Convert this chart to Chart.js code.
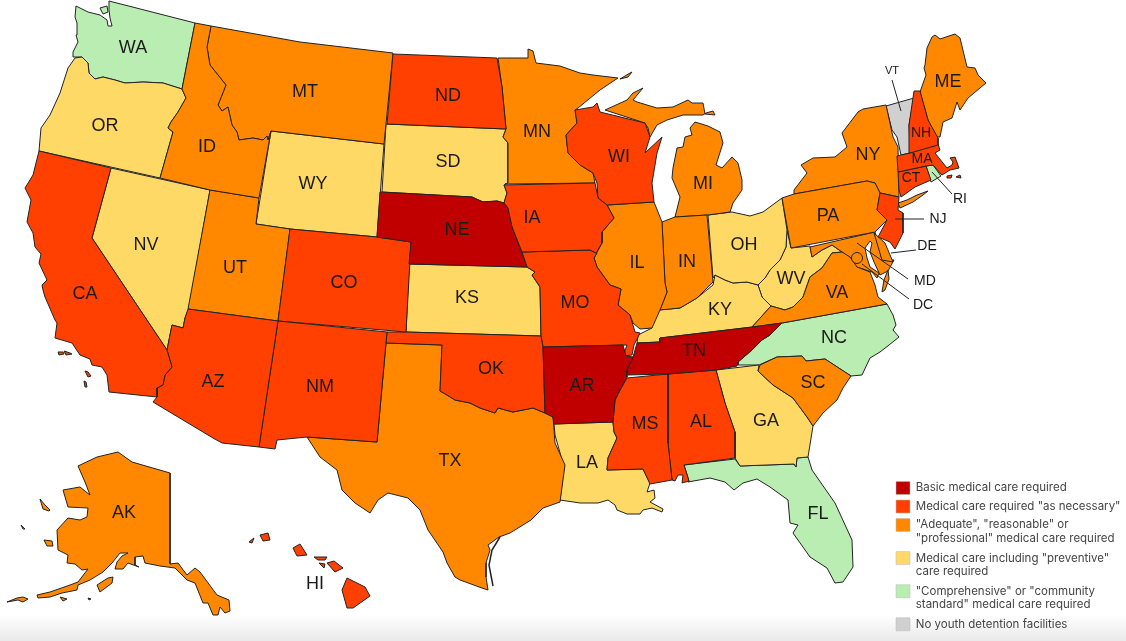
<!DOCTYPE html>
<html>
<head>
<meta charset="utf-8">
<title>Youth detention medical care standards</title>
<script src="https://cdn.jsdelivr.net/npm/chart.js@4"></script>
<style>
html, body { margin: 0; padding: 0; }
body { width: 1126px; height: 641px; overflow: hidden; background: linear-gradient(to bottom, #fff 0, #fff 615px, #e9e9e9 641px); }
canvas { display: block; }
</style>
</head>
<body>
<canvas id="myChart" width="1126" height="641"></canvas>
<script>
// state outlines, map units, x y x y ...  every state is a list of rings (islands too)
const WA = [[76,6, 88,12, 100,15, 107,20, 108,26, 112,26, 110,18, 109,10, 109,1, 195,23, 182,89, 163,83, 143,82, 125,83, 115,80, 103,77, 95,79, 89,73, 88,63, 82,57, 73,57, 73,52, 78,42, 76,35, 77,23, 75,17],
  [100,8, 107,6, 108,12, 103,14]];
const OR = [[75,58, 82,57, 88,63, 89,73, 95,79, 103,77, 115,80, 125,83, 143,82, 163,83, 182,89, 186,98, 178,112, 171,122, 168,128, 173,132, 160,178, 39,151, 41,128, 50,115, 60,93, 68,68]];
const CA = [[39,151, 111,168, 92,238, 167,350, 172,367, 165,375, 163,385, 157,388, 157,397, 109,392, 107,375, 102,367, 92,365, 90,359, 80,355, 72,343, 55,338, 57,323, 55,320, 45,297, 43,290, 42,285, 47,280, 39,263, 41,254, 35,247, 33,233, 27,222, 31,200, 25,188, 33,175],
  [58,352, 63,352, 64,354, 59,355], [64,351, 70,353, 72,354, 66,355], [85,371, 88,372, 91,376, 88,377], [84,381, 86,382, 87,387, 85,387]];
const NV = [[111,168, 210,190, 189,308, 185,318, 183,328, 172,325, 167,350, 92,238]];
const ID = [[195,23, 211,26, 207,47, 210,65, 218,75, 226,85, 218,105, 222,111, 228,107, 232,125, 237,132, 239,140, 253,138, 263,140, 267,136, 268,140, 271,131, 259,198, 210,190, 160,178, 173,132, 168,128, 171,122, 178,112, 186,98, 182,89]];
const MT = [[211,26, 300,42, 393,53, 384,144, 271,131, 268,140, 267,136, 263,140, 253,138, 239,140, 237,132, 232,125, 228,107, 222,111, 218,105, 226,85, 218,75, 210,65, 207,47]];
const WY = [[271,131, 384,144, 377,237, 290,229, 256,224]];
const UT = [[210,190, 259,198, 256,224, 290,229, 278,321, 188,309]];
const CO = [[290,229, 377,237, 411,242, 406,332, 278,321]];
const AZ = [[188,309, 278,321, 259,447, 222,443, 213,438, 153,402, 157,397, 157,388, 163,385, 165,375, 172,367, 167,350, 172,325, 183,328, 185,318]];
const NM = [[278,321, 387,332, 386,343, 377,442, 307,437, 277,440, 275,449, 259,447]];
const ND = [[393,54, 497,58, 502,87, 506,129, 387,124]];
const SD = [[386,124, 506,129, 503,137, 508,143, 508,183, 504,185, 507,193, 504,203, 497,201, 483,202, 472,197, 382,192]];
const NE = [[380,192, 472,197, 483,202, 497,201, 504,203, 508,208, 512,227, 518,243, 527,267, 409,264, 411,242, 377,237]];
const KS = [[409,264, 527,267, 535,272, 532,275, 540,287, 541,336, 406,332]];
const OK = [[387,332, 406,332, 541,336, 543,347, 545,413, 533,408, 513,412, 498,408, 495,413, 480,408, 470,403, 455,400, 447,395, 440,391, 442,345, 386,343]];
const TX = [[386,343, 442,345, 440,391, 447,395, 455,400, 470,403, 480,408, 495,413, 498,408, 513,412, 533,408, 545,413, 553,417, 555,443, 565,465, 560,502, 543,508, 531,520, 510,533, 499,537, 488,545, 490,550, 486,563, 486,577, 488,590, 482,588, 460,580, 455,577, 447,563, 443,552, 428,530, 420,510, 408,498, 388,493, 378,500, 370,513, 355,503, 342,490, 337,470, 320,457, 307,437, 377,442]];
const MN = [[498,58, 528,58, 528,49, 533,51, 536,63, 560,66, 580,73, 593,75, 618,78, 600,90, 578,108, 575,110, 577,123, 566,135, 568,153, 580,165, 593,173, 595,183, 505,184, 508,183, 508,143, 503,137, 506,129, 502,87],
  [620,79, 630,73, 632,72, 628,77]];
const IA = [[504,185, 595,183, 598,198, 607,205, 614,218, 602,232, 602,243, 596,253, 590,250, 522,252, 512,227, 507,207, 504,203, 507,193]];
const MO = [[522,252, 590,250, 597,253, 594,258, 597,267, 610,285, 621,289, 618,305, 630,315, 635,332, 640,333, 634,345, 632,355, 623,356, 627,345, 543,347, 541,336, 540,287, 532,275, 535,272, 527,267]];
const AR = [[543,347, 623,345, 626,356, 633,357, 627,370, 627,377, 620,390, 615,400, 613,422, 554,424, 553,417, 545,413]];
const LA = [[554,424, 613,422, 614,432, 617,438, 608,458, 607,470, 643,469, 650,483, 647,492, 654,490, 655,498, 650,502, 663,509, 662,512, 652,508, 643,510, 640,514, 627,514, 617,510, 615,505, 608,500, 598,503, 580,503, 560,500, 564,467, 555,435]];
const WI = [[575,110, 593,107, 597,103, 600,112, 645,123, 650,137, 645,153, 662,137, 657,153, 652,183, 654,202, 607,205, 598,198, 597,183, 593,173, 580,165, 568,153, 566,135, 577,123]];
const IL = [[607,205, 654,202, 662,222, 665,283, 667,292, 660,310, 652,328, 640,329, 633,323, 630,315, 618,305, 621,289, 610,285, 597,267, 594,258, 602,243, 602,232, 614,218]];
const IN = [[662,222, 675,217, 707,215, 713,282, 697,298, 680,308, 660,310, 667,292, 665,283]];
const MI = [[675,217, 708,215, 730,212, 733,203, 742,190, 742,180, 738,163, 732,157, 722,168, 716,165, 723,143, 720,132, 708,126, 695,122, 690,128, 692,135, 685,137, 683,147, 677,148, 673,168, 672,178, 680,197],
  [605,110, 627,100, 633,93, 643,88, 633,100, 637,102, 657,108, 673,107, 688,100, 692,103, 703,103, 705,114, 715,115, 713,111, 706,113, 703,115, 683,115, 667,120, 657,125, 650,137, 648,128, 645,123]];
const OH = [[708,215, 732,212, 750,216, 763,212, 782,198, 787,230, 786,247, 780,260, 770,270, 765,278, 758,285, 747,282, 733,283, 725,280, 715,275, 713,278]];
const KY = [[637,343, 638,335, 652,328, 650,323, 658,310, 680,308, 697,298, 713,285, 715,275, 725,280, 733,283, 747,282, 758,285, 762,297, 771,306, 752,327, 660,338, 660,342]];
const TN = [[628,375, 668,374, 716,370, 737,366, 738,362, 752,350, 762,340, 770,335, 782,323, 753,327, 660,338, 660,342, 637,343, 633,357, 627,370]];
const MS = [[627,378, 668,374, 668,443, 672,480, 650,484, 643,469, 607,470, 608,458, 617,438, 614,432, 613,422, 615,400, 620,390]];
const AL = [[668,374, 716,370, 725,403, 735,432, 735,458, 684,465, 689,481, 682,483, 683,475, 678,475, 675,481, 672,480, 668,443]];
const GA = [[716,370, 759,365, 758,371, 773,385, 793,398, 807,417, 813,426, 808,457, 797,458, 796,467, 794,464, 740,466, 735,458, 735,432, 725,403]];
const FL = [[684,465, 735,459, 740,466, 794,464, 796,467, 797,458, 808,457, 812,470, 835,503, 852,540, 853,567, 843,582, 835,583, 827,568, 810,557, 793,533, 798,525, 790,523, 788,500, 770,487, 757,479, 743,483, 734,490, 725,482, 710,478, 688,482, 689,481]];
const SC = [[758,371, 760,365, 777,357, 802,356, 806,361, 825,359, 851,376, 843,388, 837,400, 823,413, 813,426, 807,417, 793,398, 773,385]];
const NC = [[738,365, 759,365, 777,357, 802,356, 806,361, 825,359, 851,376, 862,375, 870,358, 880,352, 889,345, 899,337, 893,330, 896,325, 893,315, 887,304, 782,323, 770,335, 762,340, 752,350, 738,362]];
const VA = [[752,327, 771,306, 785,310, 793,307, 803,297, 810,277, 822,268, 832,253, 842,252, 850,257, 857,267, 870,272, 875,285, 878,297, 887,304, 782,323],
  [888,270, 884,280, 882,292, 885,290, 889,279]];
const WV = [[762,297, 758,285, 765,278, 770,270, 780,260, 786,247, 787,230, 791,248, 810,246, 812,257, 822,250, 832,245, 842,252, 832,253, 822,268, 810,277, 803,297, 793,307, 785,310, 771,306]];
const PA = [[794,194, 867,181, 875,183, 880,193, 877,210, 887,220, 875,232, 791,248, 782,198]];
const NY = [[794,190, 807,173, 801,165, 813,158, 835,157, 847,147, 842,133, 858,112, 863,109, 886,105, 893,137, 898,147, 899,197, 880,193, 875,183, 867,181, 794,194],
  [898,203, 907,200, 917,195, 928,191, 923,195, 913,202, 900,208]];
const NJ = [[880,193, 899,197, 898,210, 903,213, 903,233, 895,249, 890,242, 878,237, 887,220, 877,210]];
const DE = [[874,233, 885,243, 893,262, 882,260]];
const MD = [[810,247, 875,232, 882,260, 894,260, 888,271, 880,275, 874,262, 870,252, 872,243, 870,241, 865,248, 867,258, 870,267, 879,273, 877,278, 872,272, 860,268, 855,267, 850,258, 842,252, 832,245, 822,250, 812,257]];
const VT = [[886,106, 914,98, 909,125, 910,153, 901,155, 897,137, 892,130]];
const NH = [[914,91, 920,91, 928,120, 938,138, 938,145, 910,153, 909,125]];
const ME = [[920,92, 926,75, 924,68, 925,65, 927,48, 932,37, 935,35, 940,39, 955,34, 960,38, 967,67, 975,68, 978,75, 986,83, 980,88, 968,98, 960,110, 957,102, 952,118, 943,122, 940,137, 936,137, 928,120]];
const MA = [[897,156, 910,153, 938,144, 940,150, 935,153, 947,168, 952,165, 953,162, 950,158, 955,157, 959,168, 950,170, 942,175, 933,165, 926,166, 898,172],
  [947,176, 952,175, 951,178, 947,178], [956,177, 960,175, 961,178]];
const CT = [[898,172, 926,166, 931,180, 915,187, 901,197, 899,190]];
const RI = [[926,166, 933,165, 941,176, 931,182]];
const AK = [[78,466, 97,457, 118,452, 132,462, 170,473, 170,564, 178,563, 187,575, 195,568, 200,572, 217,595, 229,600, 230,611, 225,613, 220,607, 218,615, 213,615, 208,603, 203,603, 195,583, 187,580, 175,568, 160,566, 145,563, 143,556, 135,557, 135,565, 139,567, 128,563, 123,569, 115,569, 117,562, 122,556, 128,553, 120,553, 112,563, 107,568, 103,572, 90,580, 78,585, 77,590, 62,593, 50,597, 38,598, 37,595, 50,592, 70,585, 78,582, 88,569, 82,570, 75,564, 67,563, 68,555, 58,550, 57,530, 68,518, 80,520, 87,517, 88,508, 68,507, 63,490, 80,487, 90,495, 85,482],
  [40,499, 45,505, 50,510, 49,511, 43,509], [21,525, 25,529, 23,529], [44,540, 52,541, 53,546, 47,546], [97,585, 108,578, 113,577, 112,583, 100,592], [7,602, 17,598, 23,597, 28,599, 23,602, 18,600], [60,597, 67,599, 63,601], [88,598, 91,599, 89,600]];
const HI = [[260,535, 268,533, 270,540, 263,541], [249,542, 254,538, 252,543], [293,548, 300,544, 307,555, 297,556], [314,557, 327,557, 325,560, 318,560], [319,563, 325,564, 324,568], [327,563, 334,561, 343,568, 335,572], [347,578, 365,587, 370,596, 353,608, 347,608, 342,590]];

// care standard groups, same order as the legend
const basicCare = [NE, AR, TN];
const asNecessary = [CA, AZ, NM, CO, OK, ND, IA, MO, WI, MS, AL, NJ, NH, MA, CT, HI];
const adequate = [ID, MT, UT, TX, MN, IL, IN, MI, SC, VA, PA, NY, DE, MD, ME, AK];
const preventive = [OR, NV, WY, SD, KS, LA, OH, KY, GA, WV];
const comprehensive = [WA, NC, FL, RI];
const noFacilities = [VT];
const groups = [basicCare, asNecessary, adequate, preventive, comprehensive, noFacilities];
const groupColors = ['#c00000', '#ff4000', '#ff8800', '#ffd966', '#b9edb1', '#d0d0d0'];
const groupLabels = [
  'Basic medical care required',
  'Medical care required "as necessary"',
  ['"Adequate", "reasonable" or', '"professional" medical care required'],
  ['Medical care including "preventive"', 'care required'],
  ['"Comprehensive" or "community', 'standard" medical care required'],
  'No youth detention facilities'
];

// state codes and where they sit on the map
const bigCodes = ['WA','OR','CA','NV','ID','MT','WY','UT','AZ','CO','NM','ND','SD','NE','KS','OK','TX','MN','IA','MO','AR','LA','WI','IL','IN','MI','OH','KY','TN','MS','AL','GA','FL','SC','NC','VA','WV','PA','NY','ME','AK','HI'];
const bigX = [133,105,85,146,207,305,313,235,213,344,320,448,448,457,467,491,450,537,532,575,582,587,619,637,687,703,744,720,694,645,701,766,818,813,834,837,791,828,868,948,124,315];
const bigY = [48,126,294,245,147,92,184,268,382,283,387,96,162,230,298,369,461,132,218,303,386,463,157,263,262,184,245,310,351,424,422,421,514,383,338,293,279,216,155,82,513,584];
const smallCodes = ['NH','MA','CT','RI','NJ','DE','MD','DC'];
const smallX = [921,922,911,960,938,927,925,923];
const smallY = [133,159,178,199,219,246,281,305];
const vtCode = ['VT'], vtX = [892], vtY = [71];

// leader lines to the small states, and the DC dot
const leaderVT = [892,80, 901,111];
const leaderNJ = [895,219, 924,219];
const leaderDE = [891,253, 916,250];
const leaderRI = [932,172, 952,194];
const leaderMD = [857,243, 908,279];
const leaderDC = [862,264, 909,299];
const leaders = [leaderVT, leaderNJ, leaderDE, leaderRI, leaderMD, leaderDC];
const dcDot = [857,258];
const padreIsland = [500,537, 492,550, 489,565, 493,586];

function toPoints(flat, close) {
  var pts = [];
  for (var i = 0; i < flat.length; i += 2) pts.push({x: flat[i], y: flat[i + 1]});
  if (close) pts.push({x: flat[0], y: flat[1]});
  return pts;
}

var datasets = [];
leaders.forEach(function(l) {
  datasets.push({data: toPoints(l, false), showLine: true, fill: false, borderColor: '#222', borderWidth: 1, pointRadius: 0});
});
datasets.push({data: toPoints(dcDot, false), showLine: false, pointRadius: 5.5, pointBackgroundColor: '#ff8800', pointBorderColor: '#222', pointBorderWidth: 1});
datasets.push({data: toPoints(padreIsland, false), showLine: true, fill: false, borderColor: '#222', borderWidth: 1.5, pointRadius: 0});
groups.forEach(function(states, g) {
  states.forEach(function(rings) {
    rings.forEach(function(ring) {
      datasets.push({
        data: toPoints(ring, true),
        showLine: true,
        fill: 'shape',
        backgroundColor: groupColors[g],
        borderColor: '#222',
        borderWidth: 1,
        borderJoinStyle: 'round',
        pointRadius: 0
      });
    });
  });
});

// text over the states, placed through the scales
const codeLabels = {
  id: 'codeLabels',
  afterLayout(chart) {
    // legend sits in the empty corner right of Florida
    chart.legend.left = 890.5;
    chart.legend.top = 476;
    chart.legend.right = 1126;
    chart.legend.bottom = 641;
  },
  afterDatasetsDraw(chart) {
    var ctx = chart.ctx, sx = chart.scales.x, sy = chart.scales.y;
    function put(codes, xs, ys, size) {
      ctx.font = size + 'px "Liberation Sans"';
      codes.forEach(function(c, i) {
        ctx.fillText(c, sx.getPixelForValue(xs[i]), sy.getPixelForValue(ys[i]));
      });
    }
    ctx.save();
    ctx.fillStyle = '#1a1a1a';
    ctx.textAlign = 'center';
    ctx.textBaseline = 'middle';
    put(bigCodes, bigX, bigY, 18);
    put(smallCodes, smallX, smallY, 14);
    put(vtCode, vtX, vtY, 11);
    ctx.restore();
  }
};

const myChart = new Chart('myChart', {
  type: 'scatter',
  data: {datasets: datasets},
  options: {
    animation: false,
    responsive: false,
    events: [],
    layout: {padding: 0, autoPadding: false},
    scales: {
      x: {type: 'linear', min: 0, max: 1126, display: false},
      y: {type: 'linear', min: 0, max: 641, reverse: true, display: false}
    },
    plugins: {
      tooltip: {enabled: false},
      legend: {
        display: true,
        position: 'chartArea',
        align: 'start',
        labels: {
          boxWidth: 14,
          boxHeight: 13,
          padding: 5.5,
          color: '#444',
          font: {family: 'Inter', size: 11.5, lineHeight: 1.2},
          generateLabels: function() {
            return groupLabels.map(function(t, i) {
              return {text: t, fillStyle: groupColors[i], strokeStyle: '#bbb', lineWidth: 0.5, fontColor: '#444'};
            });
          }
        }
      }
    }
  },
  plugins: [codeLabels]
});
</script>
</body>
</html>
